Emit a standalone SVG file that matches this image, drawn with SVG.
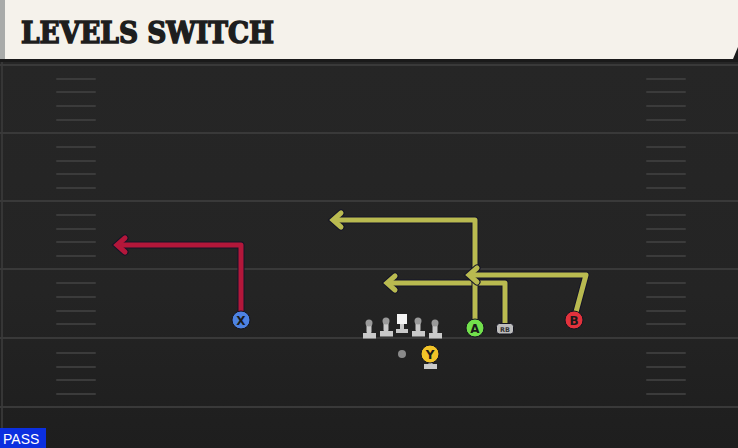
<svg xmlns="http://www.w3.org/2000/svg" width="738" height="448" viewBox="0 0 738 448">
<defs>
<linearGradient id="fieldGrad" x1="0" y1="0" x2="0" y2="1">
<stop offset="0" stop-color="#262626"/>
<stop offset="0.6" stop-color="#242424"/>
<stop offset="1" stop-color="#1e1e1e"/>
</linearGradient>
<style>
.yard{stroke:#393939;stroke-width:2}
.hash{stroke:#3b3b3b;stroke-width:2;stroke-linecap:round}
.rt-o{fill:none;stroke:#141428;stroke-width:7;stroke-linejoin:round;stroke-linecap:butt}
.rt-y{fill:none;stroke:#b9ba50;stroke-width:5;stroke-linejoin:round}
.rt-r{fill:none;stroke:#b3173a;stroke-width:5;stroke-linejoin:round}
.ah-o{fill:none;stroke:#141428;stroke-width:7;stroke-linejoin:miter;stroke-linecap:round}
.ah-y{fill:none;stroke:#b9ba50;stroke-width:5;stroke-linejoin:miter;stroke-linecap:round}
.ah-r{fill:none;stroke:#b3173a;stroke-width:5;stroke-linejoin:miter;stroke-linecap:round}
.lbl{font-family:"DejaVu Sans",sans-serif;font-weight:bold;font-size:12px;fill:#1a1a1a;text-anchor:middle}
.ol{fill:#c9c9c9}
.head{fill:#9a9a9a}
</style>
</defs>
<rect x="0" y="0" width="738" height="448" fill="#1b1b1b"/>
<rect x="0" y="62" width="738" height="386" fill="url(#fieldGrad)"/>
<line x1="2" y1="62" x2="2" y2="448" stroke="#363636" stroke-width="2"/>
<g id="field">
<line class="yard" x1="0" y1="65" x2="738" y2="65"/>
<line class="yard" x1="0" y1="133" x2="738" y2="133"/>
<line class="yard" x1="0" y1="201" x2="738" y2="201"/>
<line class="yard" x1="0" y1="269" x2="738" y2="269"/>
<line class="yard" x1="0" y1="338" x2="738" y2="338"/>
<line class="yard" x1="0" y1="407" x2="738" y2="407"/>
<g id="hashes-left">
<line class="hash" x1="57" y1="79" x2="95" y2="79"/><line class="hash" x1="57" y1="92" x2="95" y2="92"/><line class="hash" x1="57" y1="106" x2="95" y2="106"/><line class="hash" x1="57" y1="120" x2="95" y2="120"/>
<line class="hash" x1="57" y1="147" x2="95" y2="147"/><line class="hash" x1="57" y1="161" x2="95" y2="161"/><line class="hash" x1="57" y1="174" x2="95" y2="174"/><line class="hash" x1="57" y1="188" x2="95" y2="188"/>
<line class="hash" x1="57" y1="215" x2="95" y2="215"/><line class="hash" x1="57" y1="229" x2="95" y2="229"/><line class="hash" x1="57" y1="242" x2="95" y2="242"/><line class="hash" x1="57" y1="256" x2="95" y2="256"/>
<line class="hash" x1="57" y1="283" x2="95" y2="283"/><line class="hash" x1="57" y1="297" x2="95" y2="297"/><line class="hash" x1="57" y1="311" x2="95" y2="311"/><line class="hash" x1="57" y1="324" x2="95" y2="324"/>
<line class="hash" x1="57" y1="353" x2="95" y2="353"/><line class="hash" x1="57" y1="367" x2="95" y2="367"/><line class="hash" x1="57" y1="380" x2="95" y2="380"/><line class="hash" x1="57" y1="394" x2="95" y2="394"/>
</g>
<g id="hashes-right">
<line class="hash" x1="647" y1="79" x2="685" y2="79"/><line class="hash" x1="647" y1="92" x2="685" y2="92"/><line class="hash" x1="647" y1="106" x2="685" y2="106"/><line class="hash" x1="647" y1="120" x2="685" y2="120"/>
<line class="hash" x1="647" y1="147" x2="685" y2="147"/><line class="hash" x1="647" y1="161" x2="685" y2="161"/><line class="hash" x1="647" y1="174" x2="685" y2="174"/><line class="hash" x1="647" y1="188" x2="685" y2="188"/>
<line class="hash" x1="647" y1="215" x2="685" y2="215"/><line class="hash" x1="647" y1="229" x2="685" y2="229"/><line class="hash" x1="647" y1="242" x2="685" y2="242"/><line class="hash" x1="647" y1="256" x2="685" y2="256"/>
<line class="hash" x1="647" y1="283" x2="685" y2="283"/><line class="hash" x1="647" y1="297" x2="685" y2="297"/><line class="hash" x1="647" y1="311" x2="685" y2="311"/><line class="hash" x1="647" y1="324" x2="685" y2="324"/>
<line class="hash" x1="647" y1="353" x2="685" y2="353"/><line class="hash" x1="647" y1="367" x2="685" y2="367"/><line class="hash" x1="647" y1="380" x2="685" y2="380"/><line class="hash" x1="647" y1="394" x2="685" y2="394"/>
</g>
</g>
<g id="header">
<polygon points="0,0 738,0 738,47 733,59 0,59" fill="#f5f2eb"/>
<rect x="0" y="0" width="5" height="59" fill="#a9aba9"/>
<rect x="0" y="59" width="738" height="3" fill="#1a1a1a"/>
<text x="21" y="43" font-family="DejaVu Serif" font-weight="bold" font-size="30" fill="#1e1e1e" stroke="#1e1e1e" stroke-width="1.6" stroke-linejoin="miter" textLength="253" lengthAdjust="spacingAndGlyphs">LEVELS SWITCH</text>
</g>
<g id="connectors">
<g id="route-x">
<path class="rt-o" d="M241,312 V245 H119"/>
<path class="ah-o" d="M125,238 L117,245 L125,252"/>
<path class="rt-r" d="M241,312 V245 H119"/>
<path class="ah-r" d="M125,238 L117,245 L125,252"/>
</g>
<g id="route-rb">
<path class="rt-o" d="M505,324 V283 H389"/>
<path class="ah-o" d="M395,276 L387,283 L395,290"/>
<path class="rt-y" d="M505,324 V283 H389"/>
<path class="ah-y" d="M395,276 L387,283 L395,290"/>
</g>
<g id="route-a">
<path class="rt-o" d="M475,320 V220 H335"/>
<path class="ah-o" d="M341,213 L333,220 L341,227"/>
<path class="rt-y" d="M475,320 V220 H335"/>
<path class="ah-y" d="M341,213 L333,220 L341,227"/>
</g>
<g id="route-b">
<path class="rt-o" d="M576,312 L586,275 H471"/>
<path class="ah-o" d="M477,268 L469,275 L477,282"/>
<path class="rt-y" d="M576,312 L586,275 H471"/>
<path class="ah-y" d="M477,268 L469,275 L477,282"/>
</g>
</g>
<g id="node-x">
<circle cx="241" cy="320" r="9" fill="#4d82e2" stroke="#15151f" stroke-width="1"/>
<text class="lbl" x="241" y="324.5">X</text>
</g>
<g id="node-a">
<circle cx="475" cy="328" r="9" fill="#72e04c" stroke="#15151f" stroke-width="1"/>
<text class="lbl" x="475" y="332.5">A</text>
</g>
<g id="node-rb">
<rect x="496.5" y="323.5" width="17" height="10.5" rx="3" fill="#bdbdbd" stroke="#15151f" stroke-width="1"/>
<text x="505" y="331.5" font-family="DejaVu Sans,sans-serif" font-weight="bold" font-size="6.5" fill="#333" text-anchor="middle">RB</text>
</g>
<g id="node-b">
<circle cx="574" cy="320" r="9" fill="#e2323c" stroke="#15151f" stroke-width="1"/>
<text class="lbl" x="574" y="324.5">B</text>
</g>
<g id="node-y">
<rect x="428.5" y="361" width="4" height="4" class="ol"/>
<rect x="424" y="364" width="13" height="5" class="ol"/>
<circle cx="430" cy="354" r="9" fill="#f2c428" stroke="#15151f" stroke-width="1"/>
<text class="lbl" x="430" y="358.5">Y</text>
</g>
<g id="ball">
<circle cx="402" cy="354" r="4" fill="#8a8a8a"/>
</g>
<g id="lineman-1">
<rect x="366.5" y="321" width="5" height="13" rx="2.5" class="ol"/>
<rect x="363" y="333" width="13" height="5.5" class="ol"/>
<circle cx="369" cy="323" r="3.5" class="head"/>
</g>
<g id="lineman-2">
<rect x="383.5" y="319" width="5" height="13" rx="2.5" class="ol"/>
<rect x="380" y="331" width="13" height="5.5" class="ol"/>
<circle cx="386" cy="321" r="3.5" class="head"/>
</g>
<g id="center">
<rect x="397" y="314" width="10" height="10" fill="#f4f4f4"/>
<rect x="400" y="324" width="4" height="6" class="ol"/>
<rect x="396" y="329" width="12" height="4" class="ol"/>
</g>
<g id="lineman-3">
<rect x="415.5" y="319" width="5" height="13" rx="2.5" class="ol"/>
<rect x="412" y="331" width="13" height="5.5" class="ol"/>
<circle cx="418" cy="321" r="3.5" class="head"/>
</g>
<g id="lineman-4">
<rect x="432.5" y="321" width="5" height="13" rx="2.5" class="ol"/>
<rect x="429" y="333" width="13" height="5.5" class="ol"/>
<circle cx="435" cy="323" r="3.5" class="head"/>
</g>
<g id="pass-tag">
<rect x="0" y="428" width="46" height="20" fill="#0b2fe0"/>
<text x="3" y="444" font-family="Liberation Sans,Arial,sans-serif" font-size="14" fill="#ffffff">PASS</text>
</g>
</svg>
